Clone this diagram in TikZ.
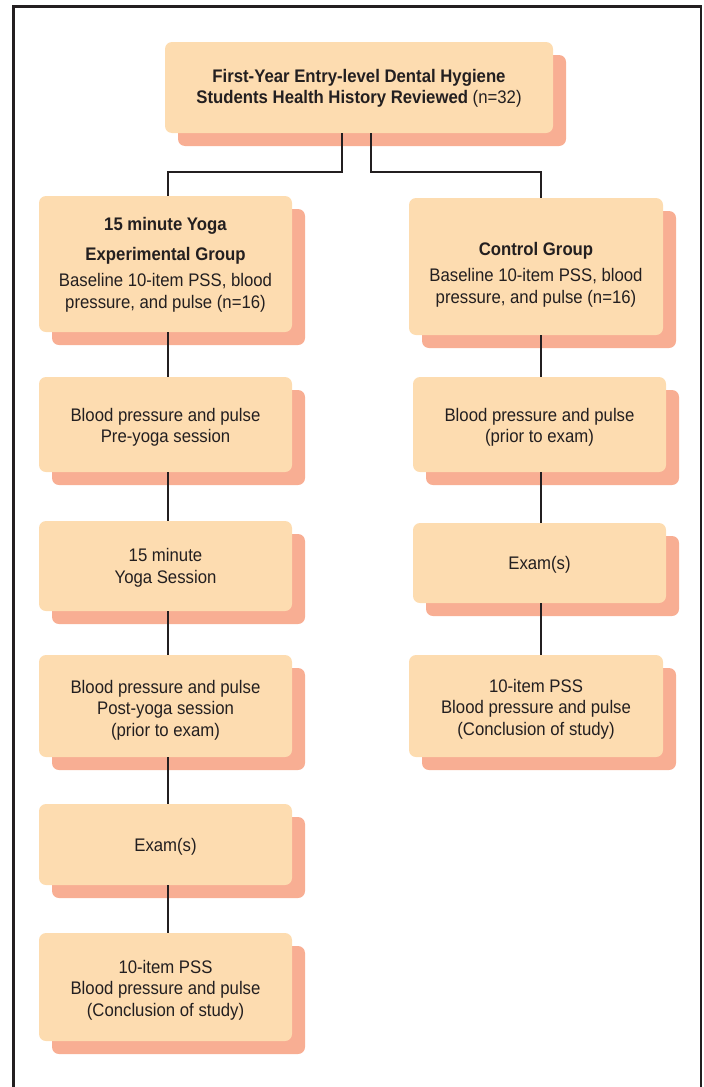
\documentclass[tikz,border=0pt]{standalone}
\usepackage{fontspec}
\setmainfont[FakeStretch=0.92]{Liberation Sans}
\usetikzlibrary{shadows}
\definecolor{boxfill}{HTML}{FDDCB0}
\definecolor{shadowfill}{HTML}{F8AE93}
\definecolor{ink}{HTML}{231F20}
\begin{document}
\begin{tikzpicture}[x=1pt,y=-1pt,
  box/.style={rectangle, rounded corners=7pt, fill=boxfill, inner sep=0pt,
    drop shadow={shadow xshift=13pt, shadow yshift=-13pt, fill=shadowfill, opacity=1}},
  txt/.style={text=ink, align=center, inner sep=0pt,
    font=\fontsize{18.2}{21.5}\selectfont},
  conn/.style={draw=ink, line width=2pt},
  frame/.style={draw=ink, line width=2.5pt}]
\useasboundingbox (0,0) rectangle (704,1087);
\draw[frame] (13.5,1095) -- (13.5,6.5) -- (701,6.5) -- (701,1095);

\node[box, minimum width=388pt, minimum height=91pt] (top) at (359,87.5) {};
\node[txt] (topt) at ([yshift=-1pt]top.center)
  {\textbf{First-Year Entry-level Dental Hygiene}\\\textbf{Students Health History Reviewed} (n=32)};

\node[box, minimum width=253pt, minimum height=136pt] (L1) at (165.5,264) {};
\node[txt] (L1t) at ([yshift=-1pt]L1.center)
  {\textbf{15 minute Yoga}\\[8pt]\textbf{Experimental Group}\\[5pt]Baseline 10-item PSS, blood\\pressure, and pulse (n=16)};
\node[box, minimum width=253pt, minimum height=95pt] (L2) at (165.5,424.5) {};
\node[txt] (L2t) at ([yshift=-3pt]L2.center) {Blood pressure and pulse\\Pre-yoga session};
\node[box, minimum width=253pt, minimum height=90pt] (L3) at (165.5,566) {};
\node[txt] (L3t) at ([yshift=-2pt]L3.center) {15 minute\\Yoga Session};
\node[box, minimum width=253pt, minimum height=102pt] (L4) at (165.5,706) {};
\node[txt] (L4t) at ([yshift=-4pt]L4.center) {Blood pressure and pulse\\Post-yoga session\\(prior to exam)};
\node[box, minimum width=253pt, minimum height=81pt] (L5) at (165.5,844.5) {};
\node[txt] (L5t) at ([yshift=-2pt]L5.center) {Exam(s)};
\node[box, minimum width=253pt, minimum height=108pt] (L6) at (165.5,987) {};
\node[txt] (L6t) at ([yshift=-3pt]L6.center) {10-item PSS\\Blood pressure and pulse\\(Conclusion of study)};

\node[box, minimum width=254pt, minimum height=137pt] (R1) at (536,266.5) {};
\node[txt] (R1t) at ([yshift=-8pt]R1.center)
  {\textbf{Control Group}\\[5pt]Baseline 10-item PSS, blood\\pressure, and pulse (n=16)};
\node[box, minimum width=253pt, minimum height=95pt] (R2) at (539.5,424.5) {};
\node[txt] (R2t) at ([yshift=-3pt]R2.center) {Blood pressure and pulse\\(prior to exam)};
\node[box, minimum width=253pt, minimum height=80pt] (R3) at (539.5,563) {};
\node[txt] (R3t) at ([yshift=-2pt]R3.center) {Exam(s)};
\node[box, minimum width=254pt, minimum height=102pt] (R4) at (536,706) {};
\node[txt] (R4t) at ([yshift=-3pt]R4.center) {10-item PSS\\Blood pressure and pulse\\(Conclusion of study)};

\coordinate (colL) at (168,0);
\coordinate (colR) at (541,0);
\coordinate (sL) at (342,0);
\coordinate (sR) at (371,0);
\coordinate (elb) at (0,172);

\draw[conn] (top.south -| sL) -- (sL |- elb) -| (L1.north -| colL);
\draw[conn] (top.south -| sR) -- (sR |- elb) -| (R1.north -| colR);
\draw[conn] (L1.south -| colL) -- (L2.north -| colL);
\draw[conn] (L2.south -| colL) -- (L3.north -| colL);
\draw[conn] (L3.south -| colL) -- (L4.north -| colL);
\draw[conn] (L4.south -| colL) -- (L5.north -| colL);
\draw[conn] (L5.south -| colL) -- (L6.north -| colL);
\draw[conn] (R1.south -| colR) -- (R2.north -| colR);
\draw[conn] (R2.south -| colR) -- (R3.north -| colR);
\draw[conn] (R3.south -| colR) -- (R4.north -| colR);
\end{tikzpicture}
\end{document}
